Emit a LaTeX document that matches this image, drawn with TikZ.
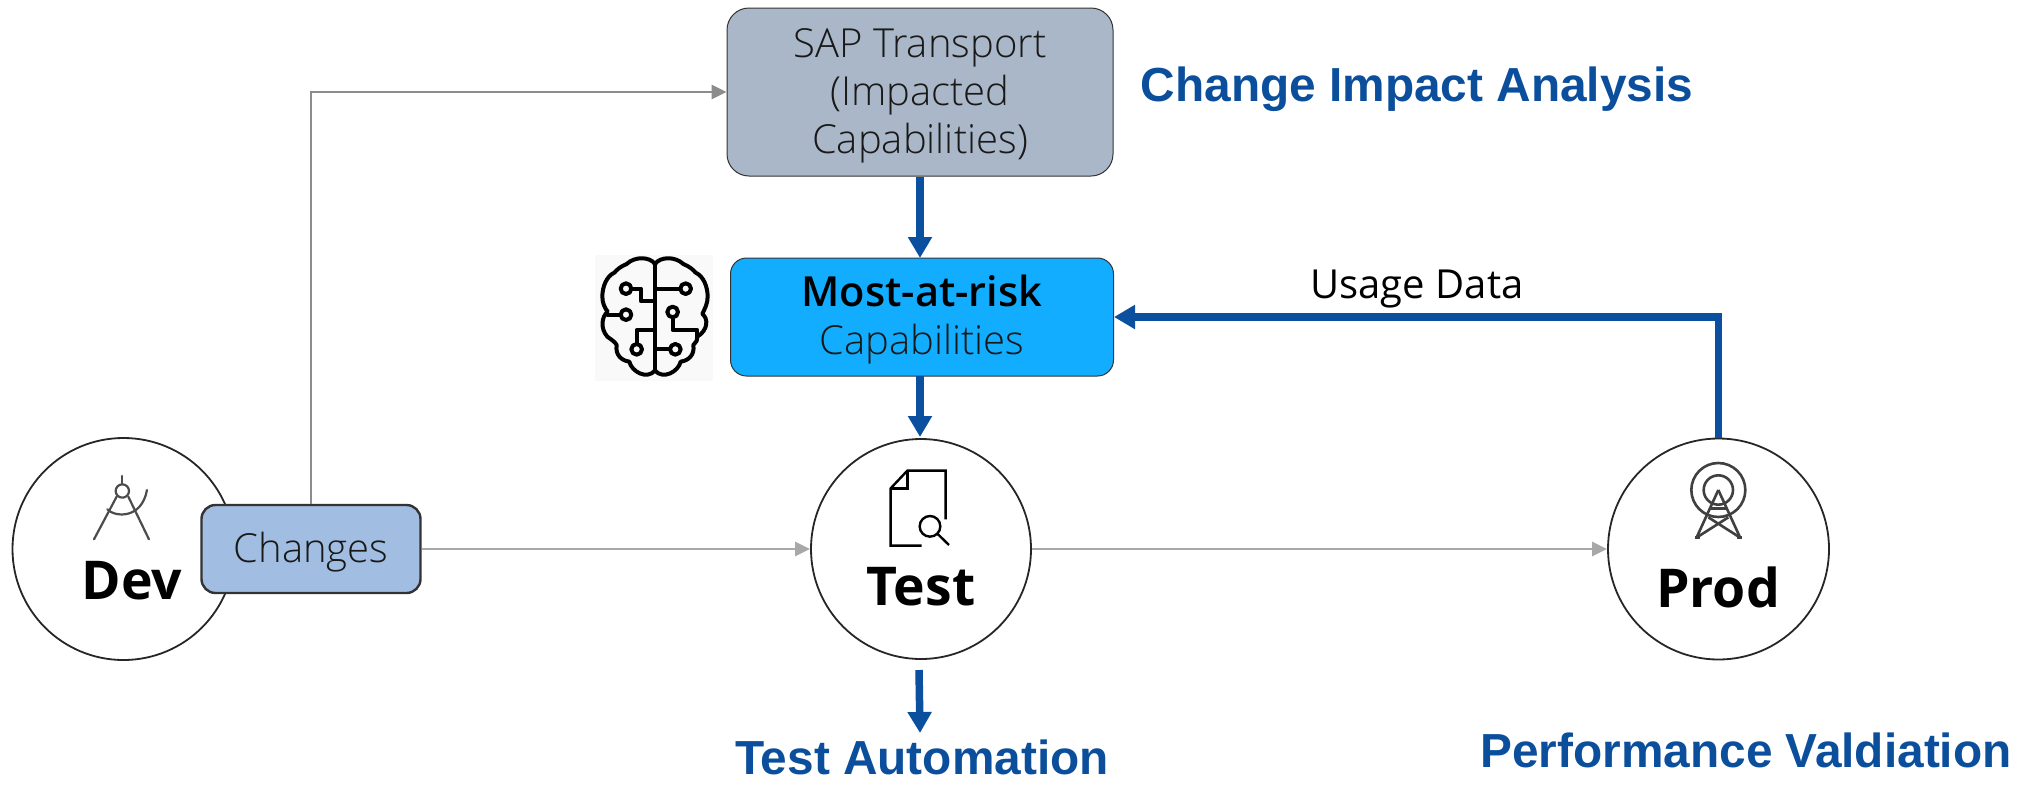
\documentclass[tikz,border=0pt]{standalone}
\usepackage{fontspec}
\setmainfont{Open Sans}
\newfontfamily\lightf{Open Sans Light}
\newfontfamily\headf{Liberation Sans}[BoldFont={Liberation Sans Bold}]
\usetikzlibrary{arrows.meta,calc}
\definecolor{bluedark}{HTML}{0B509E}
\definecolor{headblue}{HTML}{0B4F9C}
\definecolor{sapfill}{HTML}{A9B7C9}
\definecolor{riskfill}{HTML}{12ADFF}
\definecolor{chgfill}{HTML}{A1BEE2}
\definecolor{graya}{HTML}{8C8C8C}
\definecolor{grayb}{HTML}{A8A8A8}
\definecolor{ringc}{HTML}{262626}
\tikzset{
  stage/.style={circle,draw=ringc,line width=1.8pt,fill=white,minimum size=221pt,inner sep=0pt},
  stagetext/.style={font=\fontsize{53.5}{56}\selectfont\bfseries,inner sep=0pt,text=black},
  boxb/.style={draw=black!80,rounded corners=18pt,inner sep=0pt,align=center,line width=1pt},
  bluearrow/.style={draw=bluedark,line width=7.5pt,-{Triangle[length=21pt,width=23pt]}},
  grayarrow/.style={line width=2.6pt,-{Triangle[length=15pt,width=14pt]}},
  head/.style={font=\headf\fontsize{47.8}{50}\selectfont\bfseries,text=headblue,inner sep=0pt},
  icon/.style={line width=2.2pt,draw=black!85,line cap=round,line join=round},
  lighttext/.style={font=\lightf\fontsize{40}{48}\selectfont,text=black!90}
}
\begin{document}
\begin{tikzpicture}[x=1pt,y=-1pt]
\useasboundingbox (0,0) rectangle (2020,785);
% stages
\node[stage,minimum size=222pt] (dev) at (123.5,549) {};
\node[stage,minimum size=220pt] (test) at (921,549) {};
\node[stage] (prod) at (1718.5,549) {};
\node[stagetext] (devt) at (132,581) {Dev};
\node[stagetext] (testt) at (921,587) {Test};
\node[stagetext] (prodt) at (1718,587) {Prod};
% boxes
\node[boxb,fill=chgfill,line width=2.4pt,rounded corners=14pt,minimum width=219pt,minimum height=88pt,lighttext] (chg) at (311,549) {\rule{0pt}{36pt}Changes};
\node[boxb,fill=sapfill,minimum width=386pt,minimum height=168pt,rounded corners=22pt,lighttext] (sap) at (920,92) {\rule{0pt}{37pt}SAP Transport\\(Impacted\\Capabilities)};
\node[boxb,fill=riskfill,minimum width=383pt,minimum height=118pt,lighttext,rounded corners=16pt] (risk) at (922,317) {\rule{0pt}{36pt}{\fontsize{41.5}{47}\selectfont\bfseries\color{black} Most-at-risk}\\Capabilities};
% labels
\node[head] (cia) at (1417,89) {Change Impact Analysis};
\node[head] (ta) at (922,757) {Test Automation};
\node[head] (pv) at (1746,750) {Performance Valdiation};
\node[font=\fontsize{40}{44}\selectfont,inner sep=0pt,text=black] (usage) at (1417,289) {Usage Data};
% connectors
\coordinate (riskin) at (920,258);
\coordinate (riskout) at (920,376);
\coordinate (testin) at (920,437);
\coordinate (tastart) at (919,670);
\coordinate (taend) at (920,733);
\draw[grayarrow,draw=graya,graya] (chg.north) |- (sap.west);
\draw[grayarrow,draw=grayb,grayb] (chg.east) -- (test.west);
\draw[grayarrow,draw=grayb,grayb] (test.east) -- (prod.west);
\draw[bluearrow] (sap.south) -- (riskin);
\draw[bluearrow] (riskout) -- (testin);
\draw[bluearrow] (tastart) -- (taend);
\draw[bluearrow] (prod.north) |- (risk.east);
% compass icon
\begin{scope}[shift={(0,430)},x=0.3333pt,y=-0.3333pt,icon,draw=black!70,line width=2.2pt]
\draw (367,138) -- (367,163);
\draw (367,183) circle[radius=20];
\draw (350,200) -- (282,328);
\draw (385,200) -- (447,328);
\draw (322,238) .. controls (345,262) and (425,268) .. (441,180);
\end{scope}
% document icon
\begin{scope}[shift={(800,430)},x=0.3333pt,y=-0.3333pt,icon,line cap=butt,line join=miter,draw=black,line width=2.4pt]
\draw (437,268) -- (437,122) -- (322,122) -- (272,175) -- (272,347) -- (365,347);
\draw (272,175) -- (322,175) -- (322,122);
\draw (390,289) circle[radius=31];
\draw (413,312) -- (447,345);
\end{scope}
% tower icon
\begin{scope}[shift={(1600,430)},x=0.3333pt,y=-0.3333pt,icon,line cap=butt,draw=black!75,line width=2.6pt]
\draw (355,180) circle[radius=81];
\draw (355,180) circle[radius=44];
\draw (355,180) -- (290,322);
\draw (355,180) -- (420,322);
\draw (333,235) -- (377,235);
\draw (325,262) -- (416,320);
\draw (385,262) -- (294,320);
\draw (285,322) -- (300,322);
\draw (410,322) -- (425,322);
\end{scope}
% brain icon
\fill[black!2.5] (595,255) rectangle (713,381);
\begin{scope}[shift={(570,240)},x=0.3333pt,y=-0.3333pt,icon,draw=black,line width=4pt]
\draw (255,72) .. controls (240,50) and (195,48) .. (170,72)
 .. controls (150,80) and (140,90) .. (133,98)
 .. controls (110,108) and (97,140) .. (97,170)
 .. controls (97,190) and (105,205) .. (113,215)
 .. controls (95,230) and (90,265) .. (112,290)
 .. controls (125,300) and (135,305) .. (140,315)
 .. controls (135,345) and (155,362) .. (178,365)
 .. controls (185,395) and (230,420) .. (255,392);
\draw (255,72) .. controls (270,50) and (315,48) .. (340,72)
 .. controls (360,80) and (370,90) .. (377,98)
 .. controls (400,108) and (413,140) .. (413,170)
 .. controls (413,190) and (405,205) .. (397,222)
 .. controls (415,235) and (415,270) .. (382,290)
 .. controls (385,300) and (378,305) .. (370,315)
 .. controls (375,345) and (355,362) .. (332,365)
 .. controls (325,395) and (280,420) .. (255,392);
\draw (255,72) -- (255,392);
% circuits
\draw (168,146) circle[radius=16];
\draw (184,146) -- (213,146) -- (213,184) -- (255,184);
\draw (347,146) circle[radius=16];
\draw (255,146) -- (331,146);
\draw (168,224) circle[radius=16];
\draw (113,224) -- (152,224);
\draw (308,216) circle[radius=16];
\draw (308,232) -- (308,270) -- (382,270) -- (382,290);
\draw (200,328) circle[radius=16];
\draw (200,312) -- (200,270) -- (255,270);
\draw (316,328) circle[radius=16];
\draw (255,328) -- (300,328);
\end{scope}
\end{tikzpicture}
\end{document}
